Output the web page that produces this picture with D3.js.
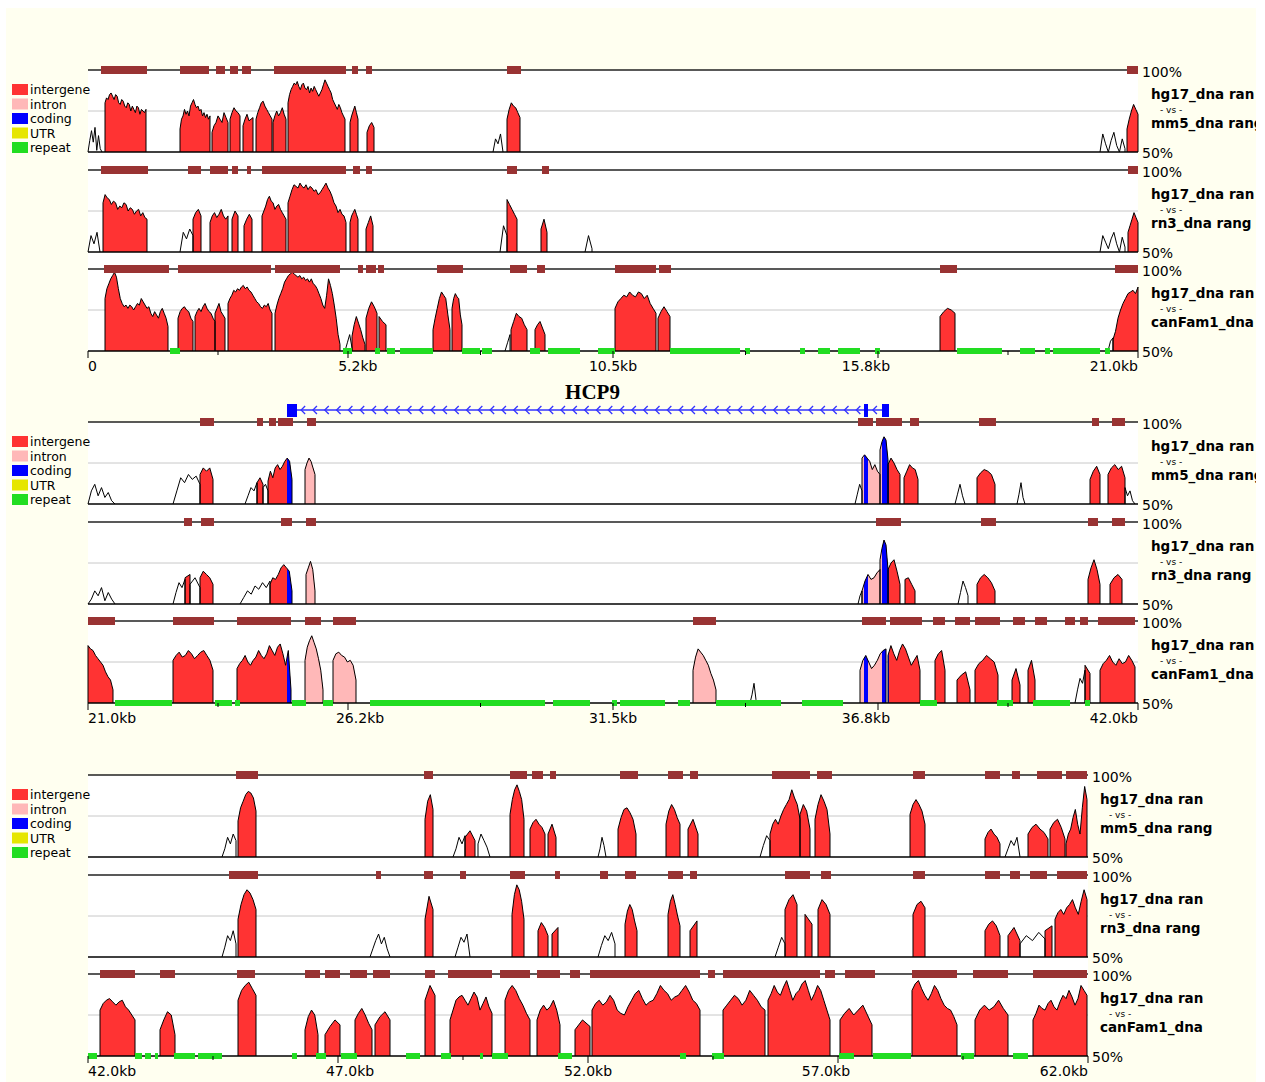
<!DOCTYPE html>
<html>
<head>
<meta charset="utf-8">
<script src="https://cdn.jsdelivr.net/npm/d3@7"></script>
<style>
  body { margin: 0; background: #fff; }
  text { font-family: "DejaVu Sans", Verdana, sans-serif; }
</style>
</head>
<body>
<svg id="chart" width="1265" height="1082"></svg>
<script>
// ---- legend / annotation categories ----
const legendLabels = ["intergene", "intron", "coding", "UTR", "repeat"];
const legendColors = ["#ff3333", "#ffb8b8", "#0000ff", "#e6e600", "#22dd22"];

// ---- genomic windows shown in each row (kb) ----
const blockDomains = [[0, 21], [21, 42], [42, 62]];
const tickValues = [[0, 5.2, 10.5, 15.8, 21.0], [21.0, 26.2, 31.5, 36.8, 42.0], [42, 47, 52, 57, 62]];
const tickLabels = [["0", "5.2kb", "10.5kb", "15.8kb", "21.0kb"],
                    ["21.0kb", "26.2kb", "31.5kb", "36.8kb", "42.0kb"],
                    ["42.0kb", "47.0kb", "52.0kb", "57.0kb", "62.0kb"]];

// ---- pairwise alignments (base vs. compared genome) ----
const baseName = "hg17_dna ran";
const compareNames = ["mm5_dna rang", "rn3_dna rang", "canFam1_dna"];

// ---- gene annotation (kb), minus strand ----
const geneName = "HCP9";
const geneSpan = [24.98, 37.0];
const geneExons = [[24.98, 25.18], [36.52, 36.60], [36.88, 37.02]];

// ---- conservation profiles: [start kb, end kb, conserved?, % identity samples] ----
const peaksB1T1 = [
  [0.00, 0.28, 0, [50,57,63,56,65,51,60,52,50]],
  [0.34, 1.16, 1, [80,83,82,85,86,84,82,85,84,80,79,82,81,78,77,80,79,75,78,76,74,78,77,73,76,75,74,76]],
  [1.84, 2.44, 1, [64,70,72,76,73,75,72,78,80,82,79,77,78,75,76,72,74,71,73,70,72]],
  [2.48, 2.80, 1, [62,66,68,72,70,68,74,71,68]],
  [2.84, 3.04, 1, [70,74,77,75,74,72]],
  [3.10, 3.30, 1, [66,70,73,69,70,71]],
  [3.36, 3.68, 1, [70,74,77,80,81,78,76,74,72,70]],
  [3.70, 3.96, 1, [68,72,75,72,74,77,73,70]],
  [4.00, 5.14, 1, [80,85,88,90,92,91,93,90,88,91,92,89,88,90,86,89,87,90,88,86,84,86,88,91,94,92,90,88,86,82,80,78,76,79,77,74,72,70]],
  [5.24, 5.40, 1, [68,72,75,78,74,70]],
  [5.58, 5.72, 1, [62,66,68,65]],
  [8.10, 8.30, 0, [50,58,55,61,50]],
  [8.38, 8.64, 1, [70,76,80,78,77,74,71]],
  [20.24, 20.74, 0, [50,61,55,50,57,62,54,50,58,52]],
  [20.78, 21.00, 1, [64,70,75,79,76,73]]
];
const peaksB1T2 = [
  [0.00, 0.24, 0, [50,60,55,62,50]],
  [0.30, 1.18, 1, [80,85,83,82,79,81,80,76,78,77,80,79,75,77,76,73,75,76,72,74,71,70]],
  [1.84, 2.10, 0, [50,62,58,64,60]],
  [2.10, 2.26, 1, [70,74,76,72]],
  [2.44, 2.80, 1, [68,72,74,71,73,76,72,70,72]],
  [2.88, 3.00, 1, [70,75,72]],
  [3.12, 3.28, 1, [66,70,73,70]],
  [3.48, 3.96, 1, [72,75,78,82,84,81,80,76,78,79,76,74,72,70]],
  [4.00, 5.16, 1, [80,84,88,91,90,89,92,90,89,91,88,90,89,87,88,85,86,88,90,92,89,87,84,80,78,74,76,73,72,68]],
  [5.24, 5.40, 1, [68,72,74,76,73,70]],
  [5.56, 5.70, 1, [64,68,72,66]],
  [8.24, 8.38, 0, [50,66,60]],
  [8.38, 8.58, 1, [82,79,76,73,70]],
  [9.06, 9.18, 1, [64,70,62]],
  [9.94, 10.08, 0, [50,60,52]],
  [20.24, 20.74, 0, [50,60,56,52,58,62,55,50,59,53]],
  [20.80, 21.00, 1, [62,66,70,74,71,68]]
];
const peaksB1T3 = [
  [0.34, 1.60, 1, [82,88,91,94,96,98,95,88,82,79,77,78,76,78,77,75,77,79,78,82,80,78,76,77,73,71,74,72,70,74,76,73,70,65]],
  [1.80, 2.10, 1, [70,74,76,77,75,74,70,68]],
  [2.14, 2.54, 1, [71,74,76,74,77,79,76,74,73,70,68]],
  [2.54, 2.74, 1, [73,76,79,74,72,70]],
  [2.80, 3.68, 1, [79,82,84,87,86,88,87,89,90,88,89,87,86,84,82,80,79,77,76,78,77,79,75,73]],
  [3.74, 5.04, 1, [73,78,82,85,88,92,94,96,97,98,97,96,95,96,94,95,93,94,92,94,91,90,88,85,82,78,76,84,94,90,85,78,70,60,54]],
  [5.14, 5.28, 0, [50,55,60,52]],
  [5.28, 5.54, 1, [59,66,71,67,63,58,54]],
  [5.56, 5.78, 1, [70,76,80,77,73]],
  [5.82, 5.96, 1, [71,68,66]],
  [6.90, 7.24, 1, [63,70,76,82,86,84,82,72,63]],
  [7.28, 7.48, 1, [76,82,85,83,82,72,66]],
  [8.34, 8.44, 0, [50,55,60]],
  [8.46, 8.78, 1, [63,68,73,71,70,66,63]],
  [8.94, 9.14, 1, [63,66,68,64,60]],
  [10.54, 11.36, 1, [76,80,82,84,83,86,84,83,86,85,82,84,79,76,73]],
  [11.40, 11.64, 1, [70,74,77,74,71]],
  [17.04, 17.34, 1, [71,74,76,75,73]],
  [20.40, 20.50, 0, [50,56,58]],
  [20.50, 21.00, 1, [57,62,70,75,79,82,85,86,87,85,89]]
];
const peaksB2T1 = [
  [21.00, 21.54, 0, [50,58,62,55,60,54,57,52,50]],
  [22.70, 23.24, 0, [50,58,66,63,68,65,67,62]],
  [23.24, 23.50, 1, [68,72,70,72,65]],
  [24.14, 24.38, 0, [50,55,60,58,63]],
  [24.38, 24.50, 1, [63,66,62]],
  [24.50, 24.60, 0, [60,62,58]],
  [24.60, 25.08, 1, [64,70,66,72,74,71,73,76,78,76,65]],
  [25.34, 25.54, 1, [71,75,78,76,72,68]],
  [36.34, 36.48, 0, [50,56,62,58]],
  [36.48, 36.84, 1, [78,80,78,76,71,74,70,68]],
  [36.84, 37.00, 1, [83,88,91,89,77]],
  [37.00, 37.24, 1, [74,78,75,71,68]],
  [37.32, 37.60, 1, [66,70,74,72,71,65]],
  [38.34, 38.54, 0, [50,56,62,55,50]],
  [38.78, 39.14, 1, [66,69,71,70,68,62]],
  [39.58, 39.74, 0, [50,56,63,54,50]],
  [41.04, 41.24, 1, [65,70,73,68]],
  [41.40, 41.74, 1, [68,72,74,71,73,66]],
  [41.74, 41.94, 0, [60,55,58,52,50]]
];
const peaksB2T2 = [
  [21.00, 21.54, 0, [50,53,58,55,60,52,57,53,50]],
  [22.70, 22.94, 0, [50,57,63,60,65]],
  [22.94, 23.04, 1, [66,68]],
  [23.04, 23.24, 0, [62,66,60]],
  [23.24, 23.50, 1, [66,70,68,66,62]],
  [24.04, 24.64, 0, [50,54,58,56,61,59,63,60,64]],
  [24.64, 25.08, 1, [62,66,65,68,72,74,72,70,58]],
  [25.36, 25.54, 1, [68,72,76,71,58]],
  [36.40, 36.48, 0, [50,55,58]],
  [36.48, 36.84, 1, [58,64,68,65,66,69,71]],
  [36.84, 37.00, 1, [77,84,89,86,71]],
  [37.00, 37.24, 1, [71,75,77,70,62]],
  [37.34, 37.54, 1, [65,66,62,58]],
  [38.40, 38.60, 0, [50,57,64,60,55]],
  [38.78, 39.14, 1, [62,66,68,66,63,58]],
  [41.00, 41.24, 1, [65,72,77,71,62]],
  [41.44, 41.68, 1, [62,66,68,65]]
];
const peaksB2T3 = [
  [21.00, 21.50, 1, [85,83,82,79,77,75,73,69,66,64,58]],
  [22.70, 23.50, 1, [76,79,81,78,79,82,80,77,79,81,82,79,76,70]],
  [23.98, 25.06, 1, [71,74,76,79,75,73,76,78,82,79,77,80,85,82,79,84,86,80,73,82,58]],
  [25.34, 25.70, 1, [76,84,88,91,87,83,77,70,58]],
  [25.90, 26.36, 1, [76,80,81,79,78,75,76,73,64]],
  [33.10, 33.56, 1, [70,78,83,81,79,76,73,68,64,58]],
  [34.24, 34.40, 0, [50,55,62,52,50]],
  [36.44, 36.96, 1, [70,76,79,75,71,73,76,80,82,83]],
  [37.00, 37.64, 1, [79,85,80,76,82,86,83,78,73,76,79,70]],
  [37.94, 38.14, 1, [76,80,82,70]],
  [38.38, 38.64, 1, [64,67,69,58]],
  [38.74, 39.20, 1, [70,74,76,79,77,75,67]],
  [39.48, 39.64, 1, [64,71,61]],
  [39.80, 39.94, 1, [70,76,64]],
  [40.74, 40.94, 0, [50,58,65,62,70]],
  [40.94, 41.04, 1, [73,68]],
  [41.24, 41.94, 1, [70,74,76,79,75,73,77,74,75,79,76,72]]
];
const peaksB3T1 = [
  [44.68, 44.96, 0, [50,55,62,58,64,60]],
  [45.00, 45.36, 1, [72,80,84,88,90,89,86,78]],
  [48.74, 48.90, 1, [73,84,88,79]],
  [49.30, 49.54, 0, [50,55,62,58,63]],
  [49.54, 49.74, 1, [62,66,60]],
  [49.80, 50.04, 0, [58,64,60,56,50]],
  [50.44, 50.72, 1, [76,85,91,94,90,85,73]],
  [50.84, 51.14, 1, [67,71,73,70,68,64]],
  [51.20, 51.36, 1, [64,70,62]],
  [52.20, 52.36, 0, [50,55,62,57,50]],
  [52.60, 52.96, 1, [67,74,79,80,77,73,64]],
  [53.56, 53.84, 1, [70,78,82,79,74,70]],
  [54.00, 54.20, 1, [67,73,64]],
  [55.44, 55.64, 0, [50,57,63,60]],
  [55.64, 56.24, 1, [64,70,73,70,75,79,82,85,91,86,82,73]],
  [56.24, 56.44, 1, [76,82,78,67]],
  [56.54, 56.84, 1, [73,82,88,84,79,64]],
  [58.44, 58.74, 1, [76,82,85,82,78,70]],
  [59.94, 60.24, 1, [61,65,67,64,62,58]],
  [60.34, 60.64, 0, [50,55,60,57,62,50]],
  [60.80, 61.20, 1, [64,68,70,67,65,61]],
  [61.24, 61.54, 1, [67,71,73,68,61]],
  [61.56, 61.98, 1, [58,64,67,74,79,70,64,80,93,85]]
];
const peaksB3T2 = [
  [44.68, 44.96, 0, [50,56,63,60,66,58]],
  [45.00, 45.36, 1, [73,82,88,91,89,85,79]],
  [47.64, 48.04, 0, [50,55,60,64,58,62,55,50]],
  [48.74, 48.90, 1, [73,87,79]],
  [49.34, 49.64, 0, [50,56,62,59,64,50]],
  [50.48, 50.72, 1, [76,88,94,91,84,73]],
  [51.00, 51.20, 1, [66,71,68,63]],
  [51.28, 51.40, 1, [64,68]],
  [52.20, 52.54, 0, [50,57,63,60,65,58]],
  [52.74, 52.98, 1, [70,78,82,79,72,66]],
  [53.60, 53.84, 1, [76,84,88,82,75,69]],
  [54.04, 54.18, 1, [66,72]],
  [55.74, 55.94, 0, [50,56,62,58]],
  [55.94, 56.18, 1, [79,85,88,82]],
  [56.34, 56.48, 1, [76,70]],
  [56.60, 56.84, 1, [79,85,82,76]],
  [58.50, 58.74, 1, [76,82,84,80]],
  [59.94, 60.24, 1, [66,70,72,69,63]],
  [60.40, 60.64, 1, [63,68,60]],
  [60.64, 61.14, 0, [58,63,60,65,61]],
  [61.14, 61.28, 1, [66,69]],
  [61.34, 61.98, 1, [73,77,79,76,80,82,85,80,76,84,91,85]]
];
const peaksB3T3 = [
  [42.24, 42.94, 1, [78,82,84,85,83,81,83,84,80,78,75,72]],
  [43.44, 43.74, 1, [66,72,77,75,63]],
  [45.00, 45.36, 1, [84,90,93,95,91,87]],
  [46.34, 46.60, 1, [66,74,78,75,63]],
  [46.74, 47.04, 1, [63,68,72,69]],
  [47.34, 47.68, 1, [72,76,79,75,70,66]],
  [47.74, 48.04, 1, [69,74,77,72]],
  [48.74, 48.94, 1, [84,93,87]],
  [49.24, 50.08, 1, [72,78,84,86,87,84,81,85,89,86,78,82,86,80,76]],
  [50.34, 50.84, 1, [84,90,93,90,85,81,76,72]],
  [50.98, 51.44, 1, [72,78,81,78,80,84,78,69]],
  [51.74, 52.04, 1, [66,72,68]],
  [52.08, 54.24, 1, [78,82,84,81,83,87,84,78,76,75,80,84,88,90,85,81,83,84,88,93,90,88,84,86,87,90,93,89,84,82,78]],
  [54.70, 55.54, 1, [78,81,84,87,85,81,84,90,87,84,80,78]],
  [55.60, 56.84, 1, [84,88,93,89,87,92,96,90,84,88,90,94,96,90,84,88,93,90,84,78,72]],
  [57.04, 57.68, 1, [72,76,79,75,78,81,75,69]],
  [58.48, 59.38, 1, [90,94,96,91,87,84,88,93,90,85,81,79,78,74,69]],
  [59.74, 60.40, 1, [72,78,81,78,80,84,79,75]],
  [60.90, 61.98, 1, [72,76,81,79,78,82,84,80,78,83,87,85,90,86,81,85,93,90,87]]
];

// ---- conserved-region bars drawn on the 100% line of each track (kb) ----
const barsB1T1 = [[0.26,1.18],[1.84,2.42],[2.56,2.74],[2.84,3.0],[3.08,3.26],[3.72,5.16],[5.28,5.4],[5.56,5.68],[8.38,8.66],[20.78,21.0]];
const barsB1T2 = [[0.26,1.2],[2.0,2.26],[2.44,2.8],[2.88,3.0],[3.18,3.26],[3.48,5.16],[5.3,5.44],[5.56,5.68],[8.38,8.58],[9.08,9.22],[20.8,21.0]];
const barsB1T3 = [[0.32,1.62],[1.8,3.66],[3.74,5.04],[5.4,5.5],[5.56,5.76],[5.8,5.92],[6.98,7.5],[8.44,8.78],[8.98,9.14],[10.54,11.36],[11.42,11.66],[17.04,17.38],[20.54,21.0]];
const barsB2T1 = [[23.24,23.52],[24.38,24.5],[24.62,24.76],[24.8,25.1],[25.38,25.56],[36.4,36.7],[36.76,37.28],[37.44,37.62],[38.82,39.16],[41.08,41.22],[41.48,41.74]];
const barsB2T2 = [[22.92,23.08],[23.26,23.52],[24.86,25.08],[25.36,25.56],[36.76,37.26],[38.86,39.16],[41.0,41.2],[41.48,41.74]];
const barsB2T3 = [[21.0,21.54],[22.7,23.52],[23.98,25.06],[25.34,25.66],[25.9,26.36],[33.1,33.56],[36.48,36.96],[37.04,37.68],[37.9,38.14],[38.34,38.64],[38.74,39.24],[39.5,39.74],[39.94,40.18],[40.54,40.74],[40.84,41.0],[41.2,41.94]];
const barsB3T1 = [[44.96,45.4],[48.72,48.9],[50.44,50.78],[50.88,51.1],[51.24,51.36],[52.64,53.0],[53.6,53.9],[54.04,54.2],[55.68,56.44],[56.58,56.88],[58.5,58.74],[59.94,60.24],[60.48,60.64],[60.98,61.48],[61.56,61.98]];
const barsB3T2 = [[44.82,45.4],[47.76,47.86],[48.72,48.9],[49.44,49.56],[50.44,50.74],[51.34,51.44],[52.24,52.4],[52.74,52.96],[53.6,53.9],[54.04,54.18],[55.94,56.44],[56.66,56.86],[58.5,58.74],[59.94,60.24],[60.44,60.64],[60.84,61.18],[61.38,61.98]];
const barsB3T3 = [[42.24,42.94],[43.44,43.74],[44.98,45.34],[46.34,46.64],[46.74,47.04],[47.24,47.58],[47.7,48.04],[48.74,48.94],[49.2,50.08],[50.24,50.84],[50.98,51.44],[51.64,51.84],[52.04,54.24],[54.4,54.54],[54.7,56.64],[56.74,56.94],[57.14,57.74],[58.48,59.38],[59.7,60.4],[60.9,61.98]];

// ---- repeat elements (kb), drawn on the baseline of the last track ----
const repeatsB1 = [[1.64,1.84],[5.1,5.28],[5.74,5.84],[5.98,6.14],[6.24,6.9],[7.48,7.84],[7.88,8.08],[8.84,9.04],[9.2,9.84],[10.2,10.54],[11.64,13.04],[13.14,13.24],[14.24,14.34],[14.6,14.84],[15.0,15.44],[15.74,15.84],[17.38,18.28],[18.64,18.94],[19.14,19.24],[19.3,20.24],[20.34,20.44]];
const repeatsB2 = [[21.54,22.68],[23.54,23.88],[23.94,24.04],[25.08,25.36],[25.7,25.9],[26.64,30.14],[30.3,31.04],[31.48,31.58],[31.64,32.54],[32.8,33.04],[33.56,34.86],[35.28,36.1],[37.64,37.98],[39.18,39.5],[39.9,40.64],[40.94,41.04]];
const repeatsB3 = [[42.0,42.18],[42.94,43.08],[43.14,43.26],[43.34,43.4],[43.72,44.14],[44.2,44.68],[46.08,46.18],[46.56,46.76],[47.06,47.38],[48.36,48.64],[49.06,49.26],[49.84,49.9],[50.08,50.4],[51.4,51.68],[53.84,53.96],[54.48,54.72],[57.02,57.32],[57.7,58.46],[59.46,59.72],[60.5,60.8]];

const peaksByBlock = [[peaksB1T1, peaksB1T2, peaksB1T3], [peaksB2T1, peaksB2T2, peaksB2T3], [peaksB3T1, peaksB3T2, peaksB3T3]];
const barsByBlock = [[barsB1T1, barsB1T2, barsB1T3], [barsB2T1, barsB2T2, barsB2T3], [barsB3T1, barsB3T2, barsB3T3]];
const repeatsByBlock = [repeatsB1, repeatsB2, repeatsB3];

// ---- drawing ----
const svg = d3.select("#chart");
svg.append("rect").attr("width", 1265).attr("height", 1082).attr("fill", "#fff");
svg.append("rect").attr("x", 6).attr("y", 8).attr("width", 1250).attr("height", 1074).attr("fill", "#fffff0");

const defs = svg.append("defs");
defs.append("clipPath").attr("id", "pageClip")
  .append("rect").attr("x", 0).attr("y", 0).attr("width", 1256).attr("height", 1082);

const BAR_COLOR = "#993333";
const LEFT = 88, PX_PER_KB = 50, TRACK_H = 82;
const blockTops = [70, 422, 775];
const trackOffsets = [0, 100, 199];

function peakPoints(p) {
  const [s, e, , vals] = p;
  const n = vals.length;
  const pts = vals.map((v, i) => [n === 1 ? s : s + (e - s) * i / (n - 1), v]);
  return [[s, 50], ...pts, [e, 50]];
}

blockDomains.forEach((dom, bi) => {
  const x = d3.scaleLinear().domain(dom).range([LEFT, LEFT + (dom[1] - dom[0]) * PX_PER_KB]);
  const [x0, x1] = x.range();
  const bTop = blockTops[bi];
  const g = svg.append("g");

  // white panel behind the three tracks
  g.append("rect").attr("x", x0).attr("y", bTop)
    .attr("width", x1 - x0).attr("height", trackOffsets[2] + TRACK_H).attr("fill", "#fff");

  // legend
  const lg = g.append("g").attr("transform", `translate(12,${bTop + 14})`);
  legendLabels.forEach((lab, i) => {
    lg.append("rect").attr("x", 0).attr("y", i * 14.5).attr("width", 16).attr("height", 11)
      .attr("fill", legendColors[i]);
    lg.append("text").attr("x", 18).attr("y", i * 14.5 + 10).attr("font-size", 12.5)
      .attr("fill", "#000").text(lab);
  });

  const labelX = x1 + 4;
  const nameX = x1 + (bi === 2 ? 12 : 13);

  peaksByBlock[bi].forEach((peaks, ti) => {
    const top = bTop + trackOffsets[ti];
    const bottom = top + TRACK_H;
    const y = d3.scaleLinear().domain([50, 100]).range([bottom, top]);
    const line = d3.line().x(d => x(d[0])).y(d => y(d[1]));
    const id = `fill-${bi}-${ti}`;

    // 75% grid line
    g.append("line").attr("x1", x0).attr("x2", x1).attr("y1", y(75)).attr("y2", y(75))
      .attr("stroke", "#c8c8c8").attr("stroke-width", 1);

    // conserved areas, coloured by annotation class
    const cp = defs.append("clipPath").attr("id", id);
    peaks.filter(p => p[2]).forEach(p => cp.append("path").attr("d", line(peakPoints(p)) + "Z"));
    const fg = g.append("g").attr("clip-path", `url(#${id})`);
    fg.append("rect").attr("x", x0).attr("y", top).attr("width", x1 - x0).attr("height", TRACK_H)
      .attr("fill", legendColors[0]);
    if (geneSpan[1] > dom[0] && geneSpan[0] < dom[1]) {
      fg.append("rect").attr("x", x(Math.max(geneSpan[0], dom[0]))).attr("y", top)
        .attr("width", x(Math.min(geneSpan[1], dom[1])) - x(Math.max(geneSpan[0], dom[0])))
        .attr("height", TRACK_H).attr("fill", legendColors[1]);
      geneExons.forEach(ex => {
        fg.append("rect").attr("x", x(ex[0])).attr("y", top).attr("width", x(ex[1]) - x(ex[0]))
          .attr("height", TRACK_H).attr("fill", legendColors[2]);
      });
    }

    // identity curve outline
    peaks.forEach(p => {
      g.append("path").attr("d", line(peakPoints(p))).attr("fill", "none")
        .attr("stroke", "#000").attr("stroke-width", 1);
    });

    // 100% and 50% lines
    g.append("line").attr("x1", x0).attr("x2", x1).attr("y1", top).attr("y2", top)
      .attr("stroke", "#222").attr("stroke-width", 1.5);
    g.append("line").attr("x1", x0).attr("x2", x1).attr("y1", bottom).attr("y2", bottom)
      .attr("stroke", "#000").attr("stroke-width", 1.5);

    // conserved-region bars
    g.selectAll(null).data(barsByBlock[bi][ti]).enter().append("rect")
      .attr("x", d => x(d[0])).attr("y", top - 4)
      .attr("width", d => x(d[1]) - x(d[0])).attr("height", 8)
      .attr("fill", BAR_COLOR);

    // repeats on the last track's baseline
    if (ti === 2) {
      g.selectAll(null).data(repeatsByBlock[bi]).enter().append("rect")
        .attr("x", d => x(d[0])).attr("y", bottom - 3)
        .attr("width", d => x(d[1]) - x(d[0])).attr("height", 6)
        .attr("fill", legendColors[4]);
    }

    // right-hand labels
    const rl = g.append("g").attr("clip-path", "url(#pageClip)");
    rl.append("text").attr("x", labelX).attr("y", top + 7).attr("font-size", 14).text("100%");
    rl.append("text").attr("x", labelX).attr("y", bottom + 6).attr("font-size", 14).text("50%");
    rl.append("text").attr("x", nameX).attr("y", top + 29).attr("font-size", 13.5)
      .attr("font-weight", "bold").text(baseName);
    rl.append("text").attr("x", nameX + 9).attr("y", top + 43).attr("font-size", 9).text("- vs -");
    rl.append("text").attr("x", nameX).attr("y", top + 58).attr("font-size", 13.5)
      .attr("font-weight", "bold").text(compareNames[ti]);
  });

  // axis
  const axisY = bTop + trackOffsets[2] + TRACK_H;
  const ticks = tickValues[bi];
  const minor = d3.pairs(ticks).map(([a, b]) => (a + b) / 2);
  g.selectAll(null).data(ticks).enter().append("line")
    .attr("x1", d => x(d)).attr("x2", d => x(d)).attr("y1", axisY).attr("y2", axisY + 7)
    .attr("stroke", "#000");
  g.selectAll(null).data(minor).enter().append("line")
    .attr("x1", d => x(d)).attr("x2", d => x(d)).attr("y1", axisY).attr("y2", axisY + 4)
    .attr("stroke", "#000");
  ticks.forEach((t, i) => {
    const txt = g.append("text").attr("y", axisY + 20).attr("font-size", 14).text(tickLabels[bi][i]);
    const w = txt.node().getComputedTextLength();
    txt.attr("x", x(t) - w * i / (ticks.length - 1));
  });

  // gene model above the middle row
  if (geneSpan[1] > dom[0] && geneSpan[0] < dom[1]) {
    const gy = bTop - 12;
    g.append("text").attr("x", x((geneSpan[0] + geneSpan[1]) / 2) + 5).attr("y", gy - 11)
      .attr("text-anchor", "middle")
      .style("font-family", "'Liberation Serif', 'Times New Roman', serif")
      .attr("font-weight", "bold").attr("font-size", 21).text(geneName);
    g.append("line").attr("x1", x(geneSpan[0])).attr("x2", x(geneSpan[1]))
      .attr("y1", gy).attr("y2", gy).attr("stroke", "#3333ff").attr("stroke-width", 1.5);
    // strand chevrons along the introns
    const chev = [];
    d3.pairs(geneExons).forEach(([a, b]) => {
      const n = Math.max(1, Math.floor((x(b[0]) - x(a[1])) / 11.7));
      const step = (x(b[0]) - x(a[1])) / n;
      for (let k = 0; k < n; k++) chev.push(x(a[1]) + step * (k + 0.35));
    });
    g.selectAll(null).data(chev).enter().append("path")
      .attr("d", d => `M${d + 4},${gy - 4}L${d},${gy}L${d + 4},${gy + 4}`)
      .attr("fill", "none").attr("stroke", "#3333ff").attr("stroke-width", 1.3);
    g.selectAll(null).data(geneExons).enter().append("rect")
      .attr("x", d => x(d[0])).attr("y", gy - 6)
      .attr("width", d => Math.max(3, x(d[1]) - x(d[0]))).attr("height", 13)
      .attr("fill", "#0000ff");
  }
});
</script>
</body>
</html>
